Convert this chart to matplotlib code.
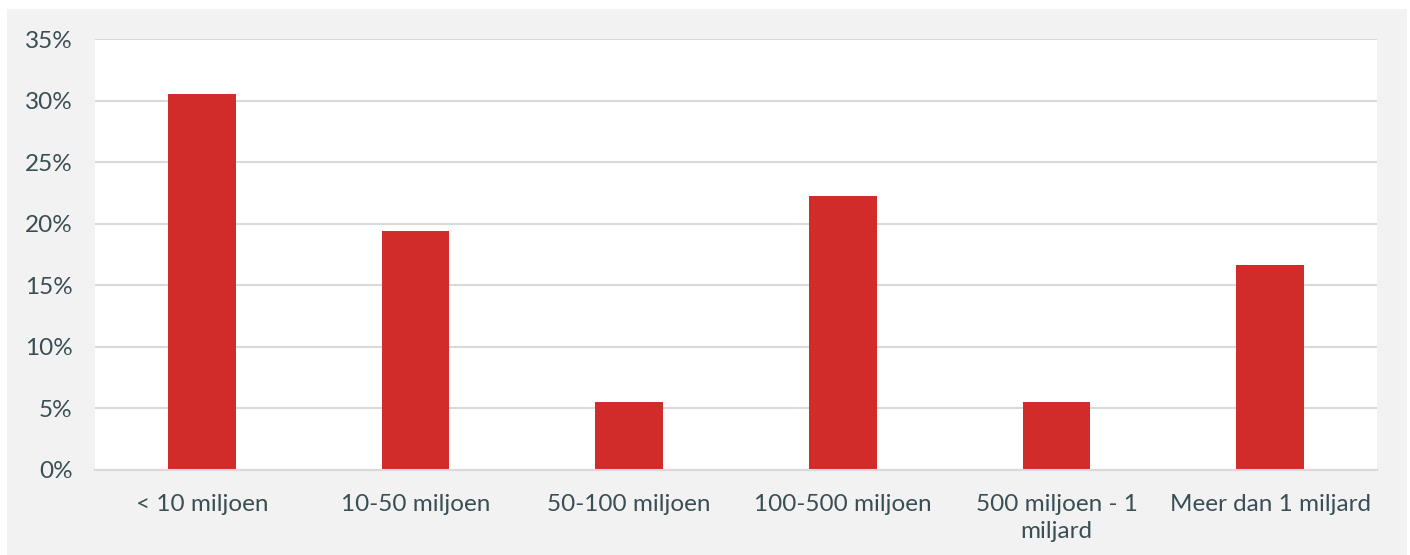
import matplotlib.pyplot as plt
from matplotlib.patches import Rectangle
from matplotlib.ticker import PercentFormatter

categories = ['< 10 miljoen', '10-50 miljoen', '50-100 miljoen', '100-500 miljoen',
              '500 miljoen - 1\nmiljard', 'Meer dan 1 miljard']
shares = [30.56, 19.44, 5.56, 22.22, 5.56, 16.67]
y_ticks = [0, 5, 10, 15, 20, 25, 30, 35]

text_color = '#3a4e55'
bar_color = '#d12b2a'
grid_color = '#d9d9d9'

plt.rcParams['font.family'] = ['Lato', 'DejaVu Sans']

fig = plt.figure(figsize=(14.1, 5.55), dpi=100)
fig.patch.set_facecolor('white')

# grey frame behind the plot area
fig.patches.append(Rectangle((7 / 1410, 0), 1400 / 1410, 546 / 555,
                             transform=fig.transFigure, facecolor='#f2f2f2',
                             edgecolor='none', zorder=-10))

ax = fig.add_axes([95 / 1410, 85 / 555, 1282 / 1410, 431 / 555])
ax.set_facecolor('white')

x = range(len(categories))
ax.bar(x, shares, width=0.316, color=bar_color, zorder=3)

ax.set_xlim(-0.5, len(categories) - 0.5)
ax.set_ylim(0, 35)
ax.set_yticks(y_ticks)
ax.yaxis.set_major_formatter(PercentFormatter(decimals=0))
ax.set_xticks(list(x))
ax.set_xticklabels(categories, linespacing=1.35)

ax.grid(True, axis='y', color=grid_color, linewidth=1.5, zorder=1)
for side in ['top', 'right', 'left']:
    ax.spines[side].set_visible(False)
ax.spines['bottom'].set_color(grid_color)
ax.spines['bottom'].set_linewidth(1.5)
ax.spines['bottom'].set_zorder(4)

ax.tick_params(axis='both', length=0, labelsize=17.5, labelcolor=text_color)
ax.tick_params(axis='y', pad=16)
ax.tick_params(axis='x', pad=17)

fig.savefig('out.png', dpi=100)
